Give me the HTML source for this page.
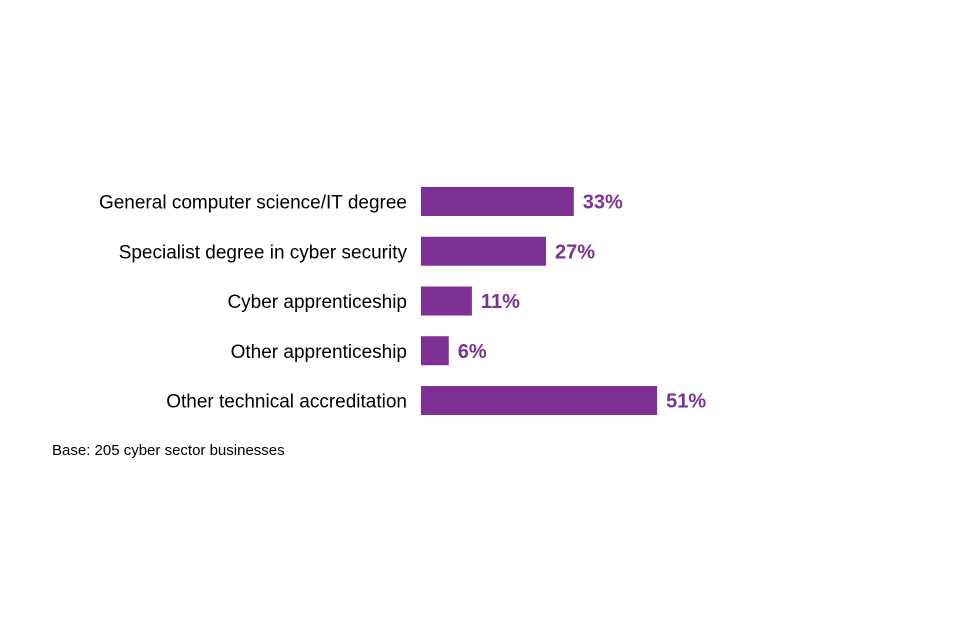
<!DOCTYPE html>
<html><head><meta charset="utf-8"><style>
body{margin:0;background:#fff;}
svg{display:block;font-family:"Liberation Sans",Arial,sans-serif;}
</style></head><body>
<svg id="chart" width="960" height="640">
<text x="52" y="455" font-size="15" fill="#000">Base: 205 cyber sector businesses</text>
</svg>
<script>
const categories = ["General computer science/IT degree","Specialist degree in cyber security","Cyber apprenticeship","Other apprenticeship","Other technical accreditation"];
const values = [33,27,11,6,51];
const valueLabels = ["33%","27%","11%","6%","51%"];
const svg = document.getElementById('chart');
const NS = 'http://www.w3.org/2000/svg';
const x0 = 421, pxPer = 4.63;
const xScale = v => v * pxPer;
const yTop = i => 187 + i * 49.75;
const barH = 29;
categories.forEach((c, i) => {
  const y = yTop(i);
  const lab = document.createElementNS(NS, 'text');
  
  
  lab.setAttribute('x', 407); lab.setAttribute('y', y + barH/2 + 7);
  lab.setAttribute('text-anchor', 'end'); lab.setAttribute('font-size', '19'); lab.setAttribute('fill', '#000');
  lab.textContent = c; svg.appendChild(lab);
  const r = document.createElementNS(NS, 'rect');
  
  
  r.setAttribute('x', x0); r.setAttribute('y', y);
  r.setAttribute('width', xScale(values[i])); r.setAttribute('height', barH);
  r.setAttribute('fill', '#7E3194'); svg.appendChild(r);
  const v = document.createElementNS(NS, 'text');
  
  
  v.setAttribute('x', x0 + xScale(values[i]) + 9); v.setAttribute('y', y + barH/2 + 7);
  v.setAttribute('font-size', '20'); v.setAttribute('font-weight', 'bold'); v.setAttribute('fill', '#7E3194');
  v.textContent = valueLabels[i]; svg.appendChild(v);
});
</script>
</body></html>
